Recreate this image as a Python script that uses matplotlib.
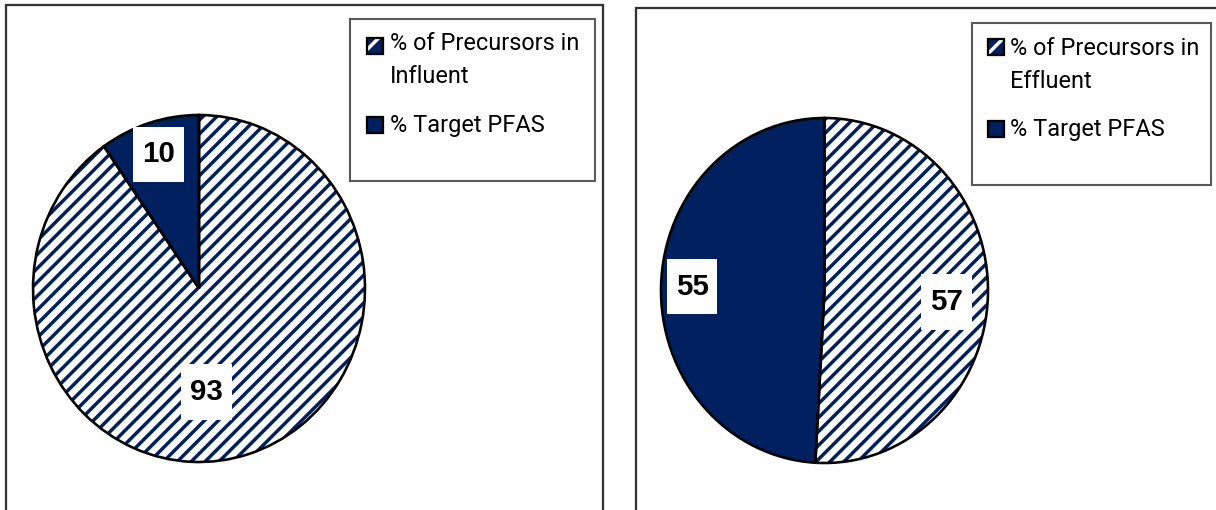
import matplotlib
matplotlib.use("Agg")
import matplotlib.pyplot as plt
from matplotlib.patches import Rectangle
from matplotlib.path import Path
import numpy as np

# data
influent_labels = ["% Target PFAS", "% of Precursors in\nInfluent"]
influent_values = [10, 93]
effluent_labels = ["% Target PFAS", "% of Precursors in\nEffluent"]
effluent_values = [55, 57]

NAVY = "#002060"
W, H, DPI = 1216, 510, 125

plt.rcParams["hatch.linewidth"] = 2.0


def fx(x):
    return x / W


def fy(y):
    return 1 - y / H


def tall_box(x0, y0, width, height, mutation_size):
    # white label box, a bit taller than a square pad gives
    px, py = 0.3 * mutation_size, 0.47 * mutation_size
    x0, x1 = x0 - px, x0 + width + px
    y0, y1 = y0 - py, y0 + height + py
    return Path([(x0, y0), (x1, y0), (x1, y1), (x0, y1), (x0, y0)], closed=True)


fig = plt.figure(figsize=(W / DPI, H / DPI), dpi=DPI)


def draw_pie(values, cx, cy, rx, ry, label_pos):
    pad = 1.03
    ax = fig.add_axes([fx(cx - rx * pad), fy(cy + ry * pad), 2 * rx * pad / W, 2 * ry * pad / H])
    wedges, _ = ax.pie(values, startangle=90, colors=[NAVY, "white"],
                       wedgeprops=dict(linewidth=0))
    wedges[1].set_edgecolor(NAVY)  # hatch takes the edge colour
    wedges[1].set_hatch("///")
    ax.pie(values, startangle=90,
           wedgeprops=dict(fill=False, edgecolor="black", linewidth=1.5))
    for w, v, (r, dth) in zip(wedges, values, label_pos):
        ang = np.deg2rad((w.theta1 + w.theta2) / 2 + dth)
        ax.text(r * np.cos(ang), r * np.sin(ang), str(v), ha="center", va="center",
                fontsize=17, fontweight="bold", family="Liberation Sans", zorder=5,
                bbox=dict(boxstyle=tall_box, fc="white", ec="none"))
    ax.set_xlim(-pad, pad)
    ax.set_ylim(-pad, pad)
    ax.set_aspect("auto")
    ax.axis("off")


def draw_legend(labels, box, hx, tx, tops, baselines):
    x0, y0, x1, y1 = box
    fig.add_artist(Rectangle((fx(x0), fy(y1)), (x1 - x0) / W, (y1 - y0) / H,
                             transform=fig.transFigure, fill=False,
                             ec="#595959", lw=1.2))
    # legend shows precursors first
    for i, lab in enumerate(labels[::-1]):
        s = 16
        rect = (fx(hx), fy(tops[i] + s)), s / W, s / H
        if i == 0:
            fig.add_artist(Rectangle(*rect, transform=fig.transFigure, fc=NAVY,
                                     ec="white", lw=0, hatch="/"))
        else:
            fig.add_artist(Rectangle(*rect, transform=fig.transFigure, fc=NAVY, lw=0))
        fig.add_artist(Rectangle(*rect, transform=fig.transFigure, fill=False,
                                 ec="black", lw=1.3))
        for j, line in enumerate(lab.split("\n")):
            fig.text(fx(tx), fy(baselines[i] + 33 * j), line, ha="left", va="baseline",
                     fontsize=13.5, family="Roboto", color="black")


def draw_panel(x0, y0, x1, y1):
    fig.add_artist(Rectangle((fx(x0), fy(y1)), (x1 - x0) / W, (y1 - y0) / H,
                             transform=fig.transFigure, fill=False,
                             ec="#333333", lw=1.3))


draw_panel(6, 5, 603, 600)
draw_panel(636, 8, 1290, 600)

draw_pie(influent_values, 199, 288.5, 166, 173.5, [(0.81, 0), (0.60, -13)])
draw_pie(effluent_values, 824.5, 290.5, 163.5, 172.5, [(0.81, 0), (0.75, -3.5)])

draw_legend(influent_labels, (350, 19, 595, 181), 367, 390, [38, 117], [50, 132])
draw_legend(effluent_labels, (972, 23, 1211, 185), 988, 1010, [39, 121], [55, 136])

fig.savefig("out.png", dpi=DPI)
